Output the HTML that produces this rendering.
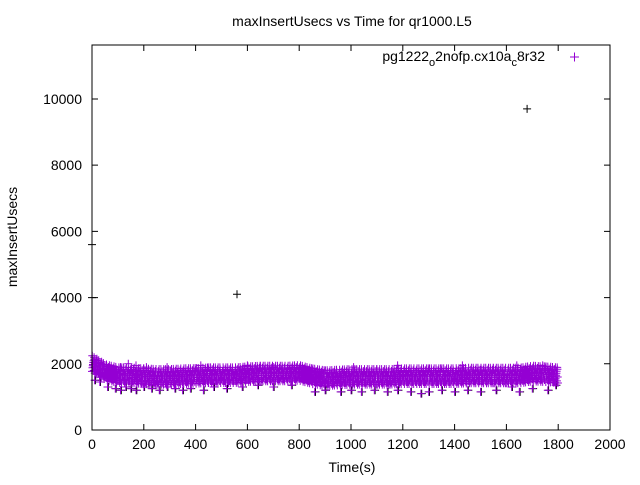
<!DOCTYPE html>
<html><head><meta charset="utf-8"><style>
body{margin:0;background:#fff}
svg text{font-family:"Liberation Sans",sans-serif;font-size:14px;fill:#000}
</style></head><body>
<svg id="chart" width="640" height="480" xmlns="http://www.w3.org/2000/svg">
<text x="352" y="26" text-anchor="middle">maxInsertUsecs vs Time for qr1000.L5</text>
<text x="352" y="472" text-anchor="middle">Time(s)</text>
<text transform="translate(17,237) rotate(-90)" text-anchor="middle">maxInsertUsecs</text>
<g id="axes"></g>
<g id="marks"></g>
<g>
<text x="545" y="61" text-anchor="end">pg1222<tspan dy="5" font-size="11">o</tspan><tspan dy="-5">2nofp.cx10a</tspan><tspan dy="5" font-size="11">c</tspan><tspan dy="-5">8r32</tspan></text>
<path d="M570 57h9M574.5 52.5v9" stroke="#9400d3" stroke-width="1"/>
</g>
<rect x="92" y="45" width="518" height="385" fill="none" stroke="#000"/>
</svg>
<script>
const xTicks=[0,200,400,600,800,1000,1200,1400,1600,1800,2000];
const yTicks=[0,2000,4000,6000,8000,10000];
const bandTimes=[0,50,100,150,200,250,300,350,400,450,500,550,600,650,700,750,800,850,900,950,1000,1050,1100,1150,1200,1250,1300,1350,1400,1450,1500,1550,1600,1650,1700,1750,1800];
const bandCenters=[2000,1750,1650,1650,1620,1600,1600,1620,1630,1650,1650,1650,1680,1700,1700,1700,1720,1620,1560,1580,1600,1600,1600,1600,1620,1620,1620,1620,1620,1640,1640,1640,1640,1640,1700,1680,1650];
const lowTimes=[10,30,60,90,110,130,150,170,200,230,260,290,320,350,380,430,470,520,580,640,700,770,860,900,960,1000,1040,1090,1140,1180,1230,1270,1300,1350,1400,1450,1500,1560,1620,1650,1700,1760,1790];
const lowValues=[1500,1450,1300,1250,1200,1300,1250,1200,1300,1250,1200,1300,1250,1200,1250,1200,1300,1250,1300,1350,1300,1350,1150,1200,1150,1200,1150,1200,1150,1200,1150,1100,1150,1200,1150,1200,1150,1200,1300,1150,1250,1200,1350];
const highTimes=[40,110,140,170,210,290,420,600,700,1010,1180,1430,1640,1740];
const highValues=[1950,1900,2000,1950,1900,1900,1950,1950,1900,1900,1950,1950,1950,1950];
const outTimes=[0,0,560,1680];
const outValues=[5600,4000,4100,9700];
const X0=92,X1=610,Y0=430,Y1=45,XMAX=2000,YMAX=11630;
const sx=t=>X0+t/XMAX*(X1-X0), sy=v=>Y0-v/YMAX*(Y0-Y1);
const NS="http://www.w3.org/2000/svg";
const axes=document.getElementById('axes'),marks=document.getElementById('marks');
xTicks.forEach(t=>{const x=sx(t);
 const l=document.createElementNS(NS,'path');l.setAttribute('d',`M${x} 430v-6M${x} 45v6`);l.setAttribute('stroke','#000');
 
 axes.appendChild(l);
 const tx=document.createElementNS(NS,'text');tx.setAttribute('x',x);tx.setAttribute('y',449);tx.setAttribute('text-anchor','middle');tx.textContent=t;
 
 axes.appendChild(tx);});
yTicks.forEach(v=>{const y=sy(v);
 const l=document.createElementNS(NS,'path');l.setAttribute('d',`M92 ${y}h6M610 ${y}h-6`);l.setAttribute('stroke','#000');
 
 axes.appendChild(l);
 const tx=document.createElementNS(NS,'text');tx.setAttribute('x',82);tx.setAttribute('y',y+5);tx.setAttribute('text-anchor','end');tx.textContent=v;
 
 axes.appendChild(tx);});
let dPurple='',dBlack='';
const plus=(t,v)=>{const x=sx(t),y=sy(v);return `M${(x-4).toFixed(1)} ${y.toFixed(1)}h8M${x.toFixed(1)} ${(y-4).toFixed(1)}v8`;};
const offs=[-230,-110,0,120,240,-50,60,-170,180];
for(let i=0;i<bandTimes.length-1;i++){
 for(let k=0;k<50;k+=2){const t=bandTimes[i]+k;const f=k/50;
  const c=bandCenters[i]*(1-f)+bandCenters[i+1]*f;
  dPurple+=plus(t,c+offs[(k/2+i)%offs.length]);
  dPurple+=plus(t+1,c+offs[(k/2+i+4)%offs.length]);}}
lowTimes.forEach((t,i)=>{dBlack+=plus(t+3,lowValues[i]);dPurple+=plus(t,lowValues[i]);});
highTimes.forEach((t,i)=>{dPurple+=plus(t,highValues[i]);});
outTimes.forEach((t,i)=>{dBlack+=plus(t,outValues[i]);});
const pb=document.createElementNS(NS,'path');pb.setAttribute('d',dBlack);pb.setAttribute('stroke','#000');pb.setAttribute('fill','none');

marks.appendChild(pb);
const pp=document.createElementNS(NS,'path');pp.setAttribute('d',dPurple);pp.setAttribute('stroke','#9400d3');pp.setAttribute('fill','none');

marks.appendChild(pp);
</script>
</body></html>
